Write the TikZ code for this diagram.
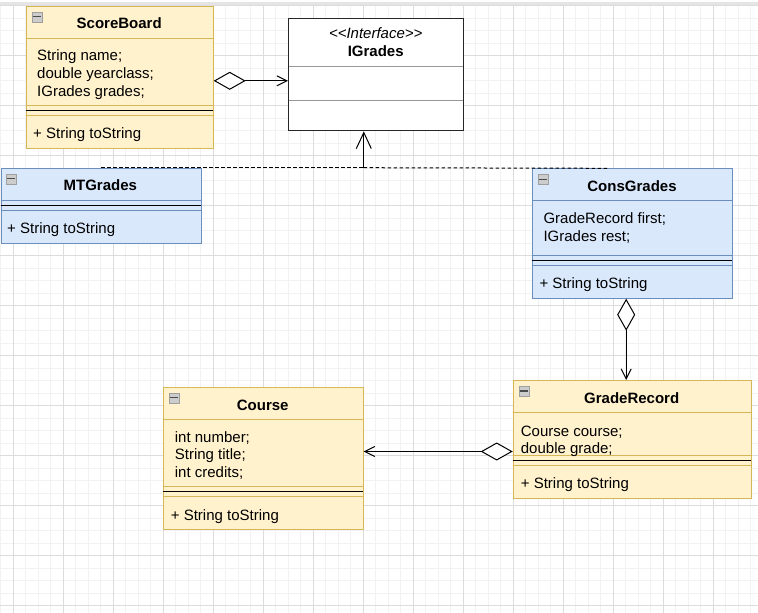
\documentclass[tikz,border=0pt]{standalone}
\usepackage{fontspec}
\setmainfont{Liberation Sans}
\usetikzlibrary{arrows.meta}
\definecolor{yfill}{HTML}{FFF2CC}
\definecolor{ydraw}{HTML}{D6B656}
\definecolor{bfill}{HTML}{DAE8FC}
\definecolor{bdraw}{HTML}{6C8EBF}
\definecolor{gminorc}{HTML}{F2F2F2}
\definecolor{gmajorc}{HTML}{DCDCDC}
\begin{document}
\begin{tikzpicture}[x=1pt,y=-1pt,
  gminor/.style={draw=gminorc,line width=0.9pt},
  gmajor/.style={draw=gmajorc,line width=0.9pt},
  ybox/.style={draw=ydraw,fill=yfill,line width=1pt,rectangle,inner sep=0pt,anchor=north west},
  bbox/.style={draw=bdraw,fill=bfill,line width=1pt,rectangle,inner sep=0pt,anchor=north west},
  ibox/.style={draw=black!85,fill=white,line width=1.1pt,rectangle,inner sep=0pt,anchor=north west},
  yline/.style={draw=ydraw,line width=1pt},
  bline/.style={draw=bdraw,line width=1pt},
  iline/.style={draw=black!40,line width=0.9pt},
  sepline/.style={draw=black,line width=1.2pt},
  ttl/.style={font=\fontsize{15}{18}\selectfont\bfseries,anchor=base,inner sep=0pt,yshift=-1pt},
  itl/.style={font=\fontsize{15}{18}\selectfont\itshape,anchor=base,inner sep=0pt,yshift=-1pt},
  txt/.style={font=\fontsize{15}{18}\selectfont,anchor=base west,inner sep=0pt,yshift=-1.8pt},
  icon/.style={draw=gray!75,fill=gray!40,line width=0.6pt,rectangle,inner sep=0pt,minimum width=10pt,minimum height=10pt,anchor=north west},
  aggr/.style={draw=black,line width=1pt,arrows={Diamond[fill=white,length=32pt,width=18pt]-Straight Barb[length=10pt,width=10pt]}},
  realize/.style={draw=black,line width=1pt,arrows={-Straight Barb[length=16pt,width=15pt]}},
  dashline/.style={draw=black,line width=1pt,dash pattern=on 3.5pt off 2.5pt}
]
\useasboundingbox (0,0) rectangle (758,613);
\fill[white] (0,0) rectangle (758,613);
% top band
\fill[gray!20] (0,1.5) rectangle (758,4.5);
% grid
\foreach \i in {0,...,60} { \draw[gminor] ({0.83+12.5*\i},5.6) -- ({0.83+12.5*\i},613); }
\foreach \j in {0,...,48} { \draw[gminor] (0,{5.6+12.5*\j}) -- (758,{5.6+12.5*\j}); }
\foreach \i in {0,...,14} { \draw[gmajor] ({13.33+50*\i},5.6) -- ({13.33+50*\i},613); }
\foreach \j in {0,...,12} { \draw[gmajor] (0,{5.6+50*\j}) -- (758,{5.6+50*\j}); }

% ScoreBoard
\node[ybox,minimum width=187pt,minimum height=142.3pt] (sb) at (25.7,5.7) {};
\draw[yline] (25.7,38.3) -- (212.7,38.3);
\draw[yline] (25.7,105.3) -- (212.7,105.3);
\draw[yline] (25.7,115.3) -- (212.7,115.3);
\draw[sepline] (25.7,110.3) -- (212.7,110.3);
\node[icon] (sbi) at (31.5,11.5) {};
\draw[black!70,line width=1.2pt] (32.5,16.5) -- (40.5,16.5);
\node[ttl] (sbt) at (119.2,27.3) {ScoreBoard};
\node[txt] (sba1) at (37,58.8) {String name;};
\node[txt] (sba2) at (37,76.5) {double yearclass;};
\node[txt] (sba3) at (37,94.2) {IGrades grades;};
\node[txt] (sbm1) at (33,136.5) {+ String toString};

% IGrades
\node[ibox,minimum width=175.3pt,minimum height=112.3pt] (ig) at (288,18) {};
\draw[iline] (288.6,66.3) -- (462.7,66.3);
\draw[iline] (288.6,100) -- (462.7,100);
\node[itl] (igs) at (375.7,37.5) {<{}<Interface>{}>};
\node[ttl] (igt) at (375.7,55) {IGrades};

% MTGrades
\node[bbox,minimum width=200.2pt,minimum height=75.3pt] (mt) at (0.5,167.7) {};
\draw[bline] (0.5,200.3) -- (200.7,200.3);
\draw[bline] (0.5,210.3) -- (200.7,210.3);
\draw[sepline] (0.5,205.5) -- (200.7,205.5);
\node[icon] (mti) at (6,173.7) {};
\draw[black!70,line width=1.2pt] (7,178.7) -- (15,178.7);
\node[ttl] (mtt) at (100.3,189.7) {MTGrades};
\node[txt] (mtm1) at (7,231.5) {+ String toString};

% ConsGrades
\node[bbox,minimum width=200.6pt,minimum height=129.4pt] (cg) at (531.7,168.3) {};
\draw[bline] (531.7,200.7) -- (732.3,200.7);
\draw[bline] (531.7,255.7) -- (732.3,255.7);
\draw[bline] (531.7,265.3) -- (732.3,265.3);
\draw[sepline] (531.7,260.5) -- (732.3,260.5);
\node[icon] (cgi) at (537.5,174.3) {};
\draw[black!70,line width=1.2pt] (538.5,179.3) -- (546.5,179.3);
\node[ttl] (cgt) at (632,190.4) {ConsGrades};
\node[txt] (cga1) at (543.3,221.8) {GradeRecord first;};
\node[txt] (cga2) at (543.3,239.5) {IGrades rest;};
\node[txt] (cgm1) at (539.3,286.8) {+ String toString};

% GradeRecord
\node[ybox,minimum width=238pt,minimum height=117.7pt] (gr) at (512.7,380) {};
\draw[yline] (512.7,412.7) -- (750.7,412.7);
\draw[yline] (512.7,455.3) -- (750.7,455.3);
\draw[yline] (512.7,465.7) -- (750.7,465.7);
\draw[sepline] (512.7,460.5) -- (750.7,460.5);
\node[icon] (gri) at (518.5,386) {};
\draw[black!70,line width=1.2pt] (519.5,391) -- (527.5,391);
\node[ttl] (grt) at (631.7,402.1) {GradeRecord};
\node[txt] (gra1) at (520.7,434.5) {Course course;};
\node[txt] (gra2) at (520.7,451.8) {double grade;};
\node[txt] (grm1) at (520.7,486.2) {+ String toString};

% Course
\node[ybox,minimum width=200pt,minimum height=142.3pt] (co) at (162.7,386.7) {};
\draw[yline] (162.7,419.3) -- (362.7,419.3);
\draw[yline] (162.7,486.7) -- (362.7,486.7);
\draw[yline] (162.7,496.3) -- (362.7,496.3);
\draw[sepline] (162.7,491.5) -- (362.7,491.5);
\node[icon] (coi) at (168.5,392.7) {};
\draw[black!70,line width=1.2pt] (169.5,397.7) -- (177.5,397.7);
\node[ttl] (cot) at (262.7,409.4) {Course};
\node[txt] (coa1) at (174.7,440.5) {int number;};
\node[txt] (coa2) at (174.7,457.8) {String title;};
\node[txt] (coa3) at (174.7,475.2) {int credits;};
\node[txt] (com1) at (170.7,518.5) {+ String toString};

% connectors
\coordinate (a1) at ([yshift=-3.45pt]sb.east);
\draw[aggr] (a1) -- (a1 -| ig.west);
\coordinate (a2) at ([xshift=-6.3pt]cg.south);
\draw[aggr] (a2) -- (a2 |- gr.north);
\coordinate (a3) at ([yshift=-12.15pt]gr.west);
\draw[aggr] (a3) -- (a3 -| co.east);
\coordinate (igb) at ([xshift=-12.4pt]ig.south);
\coordinate (jn) at (igb |- mt.north);
\coordinate (cgj) at ([xshift=-25.3pt]cg.north);
\draw[dashline] (mt.north) -- (jn);
\draw[dashline] (cgj) -- (jn);
\draw[realize] (jn) -- (igb);
\end{tikzpicture}
\end{document}
